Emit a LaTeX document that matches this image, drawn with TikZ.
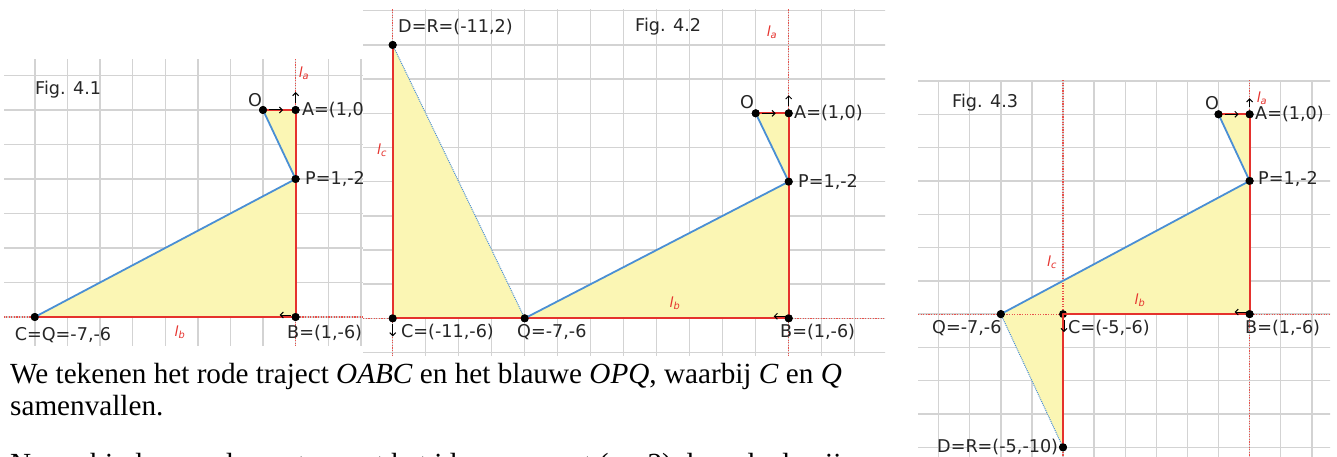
\documentclass[tikz,border=0pt]{standalone}
\usepackage{fontspec}
\setmainfont{Liberation Serif}
\newfontfamily\labfont{DejaVu Sans}
\usetikzlibrary{arrows.meta}

\definecolor{gridc}{HTML}{D3D3D3}
\definecolor{rc}{HTML}{E5322D}
\definecolor{bc}{HTML}{4A8FD4}
\definecolor{yc}{HTML}{FBF6B4}

\tikzset{
  gridline/.style={draw=gridc, line width=1.4pt},
  redpath/.style={draw=rc, line width=2pt, line join=round},
  bluepath/.style={draw=bc, line width=1.8pt, line join=round},
  bluedots/.style={draw=bc, line width=1pt, dash pattern=on 1pt off 1pt},
  helper/.style={draw=rc!85, line width=1.1pt, dash pattern=on 1.2pt off 1.4pt},
  pt/.style={circle, fill=black, inner sep=0pt, minimum size=8pt},
  lbl/.style={font=\labfont\fontsize{17.6}{18}\selectfont, inner sep=0pt, text=black!85},
  linelbl/.style={font=\labfont\itshape\fontsize{14}{14}\selectfont, text=rc, inner sep=0pt},
  tinyarrow/.style={-{Straight Barb[length=3pt,width=6pt]}, line width=1pt, draw=black},
  areafill/.style={fill=yc},
  bodytext/.style={font=\fontsize{29.2}{32}\selectfont, inner sep=0pt, anchor=base west},
}

\begin{document}
\begin{tikzpicture}[x=1pt,y=-1pt]
\useasboundingbox (0,0) rectangle (1337,457);
\clip (0,0) rectangle (1337,457);

% ---------------- body text ----------------
\node[bodytext] (t1) at (10,383) {We tekenen het rode traject \textit{OABC} en het blauwe \textit{OPQ}, waarbij \textit{C} en \textit{Q}};
\node[bodytext] (t2) at (10,415) {samenvallen.};
\node[bodytext] (t3) at (10,473) {Nu verbinden we de punten met het idee van punt (\,--\,, 2) door de draaiing om \textit{C}};

% ---------------- Fig 4.1 ----------------
\begin{scope}
\clip (4,60) rectangle (363,345);
\begin{scope}[shift={(263,110)}, x=32.6pt, y=34.5pt]
  \foreach \i in {-8,...,3} \draw[gridline] (\i,2) -- (\i,-8);
  \foreach \j in {-7,...,1} \draw[gridline] (-9,\j) -- (4,\j);
  \fill[areafill] (0,0) -- (1,0) -- (1,-2) -- cycle;
  \fill[areafill] (1,-2) -- (1,-6) -- (-7,-6) -- cycle;
  \draw[helper] (1,2) -- (1,-8);
  \draw[helper] (-9,-6) -- (4,-6);
  \node[pt] (aO) at (0,0) {};
  \node[pt] (aA) at (1,0) {};
  \node[pt] (aP) at (1,-2) {};
  \node[pt] (aB) at (1,-6) {};
  \node[pt] (aC) at (-7,-6) {};
  \draw[redpath] (aO.center) -- (aA.center) -- (aB.center) -- (aC.center);
  \draw[bluepath] (aO.center) -- (aP.center) -- (aC.center);
  \draw[tinyarrow] ([xshift=6pt]aO.center) -- ([xshift=20pt]aO.center);
  \draw[tinyarrow] ([yshift=7pt]aA.center) -- ([yshift=18pt]aA.center);
  \draw[tinyarrow] ([xshift=-5pt,yshift=2pt]aB.center) -- ([xshift=-16pt,yshift=2pt]aB.center);
  \foreach \n in {aO,aA,aP,aB,aC} \node[pt] at (\n) {};
\end{scope}
\end{scope}
\node[lbl, anchor=west] (f1) at (35,90) {Fig. 4.1};
\node[lbl] (a1O) at (255,100) {O};
\node[lbl, anchor=west] (a1A) at (302,110) {A=(1,0)};
\node[lbl, anchor=west] (a1P) at (305,179) {P=1,-2};
\node[lbl] (a1C) at (63,335) {C=Q=-7,-6};
\node[lbl, anchor=west] (a1B) at (287,333) {B=(1,-6)};
\node[linelbl] (a1la) at (304,73) {l\textsubscript{a}};
\node[linelbl] (a1lb) at (180,332) {l\textsubscript{b}};

% ---------------- Fig 4.2 ----------------
\fill[white] (363,10) rectangle (885,355);
\begin{scope}
\clip (363,10) rectangle (885,355);
\begin{scope}[shift={(755.7,113.3)}, x=33pt, y=34.17pt]
  \foreach \i in {-12,...,4} \draw[gridline] (\i,3.5) -- (\i,-7.5);
  \foreach \j in {-7,...,3} \draw[gridline] (-13,\j) -- (5,\j);
  \fill[areafill] (0,0) -- (1,0) -- (1,-2) -- cycle;
  \fill[areafill] (1,-2) -- (1,-6) -- (-7,-6) -- cycle;
  \fill[areafill] (-11,2) -- (-11,-6) -- (-7,-6) -- cycle;
  \draw[helper] (1,3.5) -- (1,-7.5);
  \draw[helper] (-11,3.5) -- (-11,-7.5);
  \draw[helper] (-13,-6) -- (5,-6);
  \node[pt] (bO) at (0,0) {};
  \node[pt] (bA) at (1,0) {};
  \node[pt] (bP) at (1,-2) {};
  \node[pt] (bB) at (1,-6) {};
  \node[pt] (bC) at (-11,-6) {};
  \node[pt] (bQ) at (-7,-6) {};
  \node[pt] (bD) at (-11,2) {};
  \draw[redpath] (bO.center) -- (bA.center) -- (bB.center) -- (bC.center) -- (bD.center);
  \draw[bluepath] (bO.center) -- (bP.center) -- (bQ.center);
  \draw[bluedots] (bD.center) -- (bQ.center);
  \draw[tinyarrow] ([xshift=6pt]bO.center) -- ([xshift=20pt]bO.center);
  \draw[tinyarrow] ([yshift=7pt]bA.center) -- ([yshift=18pt]bA.center);
  \draw[tinyarrow] ([xshift=-3pt,yshift=2pt]bB.center) -- ([xshift=-15pt,yshift=2pt]bB.center);
  \draw[tinyarrow] ([yshift=-6pt]bC.center) -- ([yshift=-18pt]bC.center);
  \foreach \n in {bO,bA,bP,bB,bC,bQ,bD} \node[pt] at (\n) {};
\end{scope}
\end{scope}
\node[lbl, anchor=west] (f2) at (635,27) {Fig. 4.2};
\node[lbl, anchor=west] (b2D) at (398,27) {D=R=(-11,2)};
\node[lbl] (b2O) at (747,102) {O};
\node[lbl, anchor=west] (b2A) at (794,113) {A=(1,0)};
\node[lbl, anchor=west] (b2P) at (798,182) {P=1,-2};
\node[lbl, anchor=west] (b2B) at (780,332) {B=(1,-6)};
\node[lbl, anchor=west] (b2C) at (401,332) {C=(-11,-6)};
\node[lbl, anchor=west] (b2Q) at (517,332) {Q=-7,-6};
\node[linelbl] (b2la) at (772,32) {l\textsubscript{a}};
\node[linelbl] (b2lb) at (675,303) {l\textsubscript{b}};
\node[linelbl] (b2lc) at (382,150) {l\textsubscript{c}};

% ---------------- Fig 4.3 ----------------
\fill[white] (918,81) rectangle (1330,457);
\begin{scope}
\clip (918,81) rectangle (1330,457);
\begin{scope}[shift={(1218.5,114.3)}, x=31.1pt, y=33.3pt]
  \foreach \i in {-10,...,4} \draw[gridline] (\i,1.5) -- (\i,-11.5);
  \foreach \j in {-11,...,1} \draw[gridline] (-11,\j) -- (5,\j);
  \fill[areafill] (0,0) -- (1,0) -- (1,-2) -- cycle;
  \fill[areafill] (1,-2) -- (1,-6) -- (-7,-6) -- cycle;
  \fill[areafill] (-7,-6) -- (-5,-6) -- (-5,-10) -- cycle;
  \draw[helper] (1,1.5) -- (1,-11.5);
  \draw[helper] (-5,1.5) -- (-5,-11.5);
  \draw[helper] (-11,-6) -- (5,-6);
  \node[pt] (cO) at (0,0) {};
  \node[pt] (cA) at (1,0) {};
  \node[pt] (cP) at (1,-2) {};
  \node[pt] (cB) at (1,-6) {};
  \node[pt] (cC) at (-5,-6) {};
  \node[pt] (cQ) at (-7,-6) {};
  \node[pt] (cD) at (-5,-10) {};
  \draw[redpath] (cO.center) -- (cA.center) -- (cB.center) -- (cC.center) -- (cD.center);
  \draw[bluepath] (cO.center) -- (cP.center) -- (cQ.center);
  \draw[bluedots] (cQ.center) -- (cD.center);
  \draw[tinyarrow] ([xshift=6pt]cO.center) -- ([xshift=20pt]cO.center);
  \draw[tinyarrow] ([yshift=7pt]cA.center) -- ([yshift=16pt]cA.center);
  \draw[tinyarrow] ([xshift=-3pt,yshift=2pt]cB.center) -- ([xshift=-15pt,yshift=2pt]cB.center);
  \draw[tinyarrow] ([xshift=1pt,yshift=-6pt]cC.center) -- ([xshift=1pt,yshift=-18pt]cC.center);
  \foreach \n in {cO,cA,cP,cB,cQ,cD} \node[pt] at (\n) {};
\end{scope}
\end{scope}
\node[lbl, anchor=west] (f3) at (952,103) {Fig. 4.3};
\node[lbl] (c3O) at (1212,103) {O};
\node[lbl, anchor=west] (c3A) at (1255,114) {A=(1,0)};
\node[lbl, anchor=west] (c3P) at (1258,179) {P=1,-2};
\node[lbl, anchor=west] (c3Q) at (932,328) {Q=-7,-6};
\node[lbl, anchor=west] (c3C) at (1068,328) {C=(-5,-6)};
\node[lbl, anchor=west] (c3B) at (1245,328) {B=(1,-6)};
\node[lbl, anchor=west] (c3D) at (937,447) {D=R=(-5,-10)};
\node[linelbl] (c3la) at (1262,98) {l\textsubscript{a}};
\node[linelbl] (c3lb) at (1140,300) {l\textsubscript{b}};
\node[linelbl] (c3lc) at (1052,262) {l\textsubscript{c}};
\end{tikzpicture}
\end{document}
